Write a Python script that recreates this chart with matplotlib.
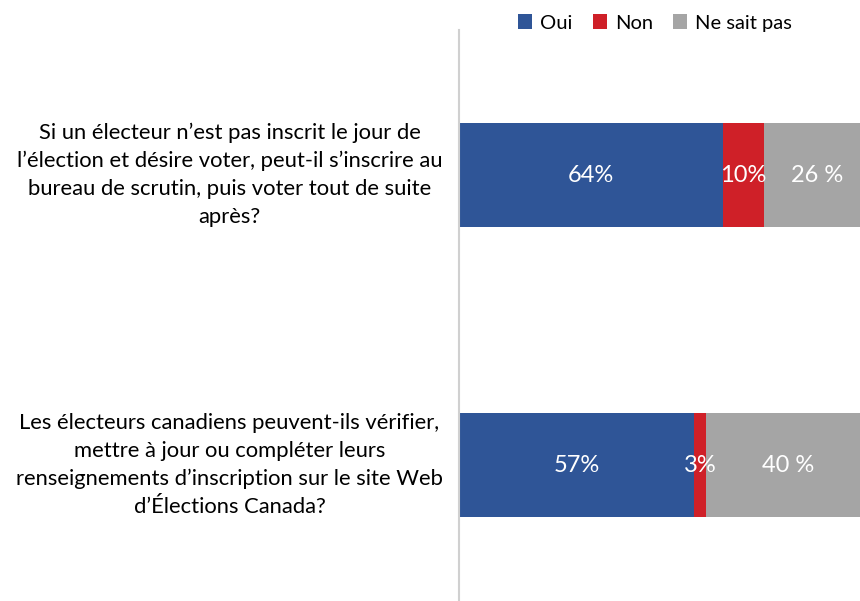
import numpy as np
import matplotlib.pyplot as plt

questions = [
    "Si un électeur n’est pas inscrit le jour de\nl’élection et désire voter, peut-il s’inscrire au\nbureau de scrutin, puis voter tout de suite\naprès?",
    "Les électeurs canadiens peuvent-ils vérifier,\nmettre à jour ou compléter leurs\nrenseignements d’inscription sur le site Web\nd’Élections Canada?",
]
oui = [64, 57]
non = [10, 3]
nsp = [26, 40]
oui_labels = ["64%", "57%"]
non_labels = ["10%", "3%"]
nsp_labels = ["26 %", "40 %"]
series = ["Oui", "Non", "Ne sait pas"]
colors = ["#2F5597", "#CF2028", "#A5A5A5"]

plt.rcParams['font.family'] = ['Lato', 'DejaVu Sans']

fig = plt.figure(figsize=(8.6, 6.01), dpi=100)
# axes reaches past the right and bottom edges, like the original
ax = fig.add_axes([459 / 860, -9 / 601, 412 / 860, 580 / 601])

y = np.arange(len(questions))
h = 0.357
left = np.zeros(len(questions))
all_labels = [oui_labels, non_labels, nsp_labels]
for vals, lab, col, txts in zip([oui, non, nsp], series, colors, all_labels):
    vals = np.array(vals, dtype=float)
    ax.barh(y, vals, left=left, height=h, color=col, label=lab)
    for yi, v, l0, t in zip(y, vals, left, txts):
        ax.text(l0 + v / 2, yi, t, ha='center', va='center', color='white', fontsize=17)
    left += vals

ax.set_xlim(0, 100)
ax.set_ylim(1.5, -0.5)
ax.set_xticks([])
ax.set_yticks([])
for s in ['top', 'right', 'bottom']:
    ax.spines[s].set_visible(False)
ax.spines['left'].set_color('#D0D0D0')
ax.spines['left'].set_linewidth(1.5)

for yi, q in zip(y, questions):
    ax.text(-0.557, yi, q, transform=ax.get_yaxis_transform(), ha='center', va='center',
            fontsize=15.8, linespacing=1.5, color='black')

fig.legend(loc='center', bbox_to_anchor=(655 / 860, 1 - 23 / 601), ncol=3, frameon=False,
           fontsize=14.5, handlelength=0.7, handleheight=0.7, handletextpad=0.4, columnspacing=1.0)

fig.savefig('out.png', dpi=100)
